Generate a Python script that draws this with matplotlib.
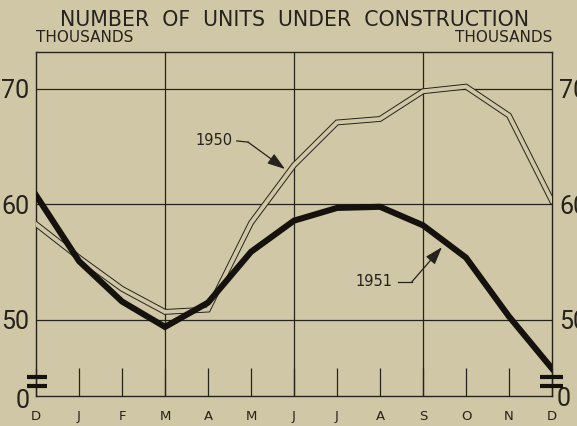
import matplotlib
matplotlib.use("Agg")
import matplotlib.pyplot as plt

# months Dec 1950 .. Dec 1951 (x positions 0..12)
months = ["D", "J", "F", "M", "A", "M", "J", "J", "A", "S", "O", "N", "D"]
units_1950 = [58.3, 55.4, 52.7, 50.7, 50.9, 58.4, 63.4, 67.1, 67.4, 69.8, 70.2, 67.7, 60.3]
units_1951 = [60.8, 55.1, 51.6, 49.4, 51.5, 55.9, 58.6, 59.7, 59.8, 58.2, 55.4, 50.3, 45.8]
y_ticks = [50, 60, 70]

bg = "#cfc7a5"
ink = "#26221c"
num_font = ["Roboto", "DejaVu Sans"]

fig = plt.figure(figsize=(5.77, 4.26), dpi=100, facecolor=bg)
ax = fig.add_axes([36 / 577, 1 - 396 / 426, 516 / 577, 344 / 426], facecolor=bg)

x = list(range(len(months)))
ax.set_xlim(0, 12)
ax.set_ylim(43.42, 73.2)

# grid
for v in y_ticks:
    ax.axhline(v, color=ink, lw=0.9, zorder=1)
for m in [3, 6, 9]:
    ax.axvline(m, color=ink, lw=0.9, zorder=1)

# 1950: double (hollow) line
ax.plot(x, units_1950, color=ink, lw=4.2, solid_joinstyle="miter", zorder=3)
ax.plot(x, units_1950, color=bg, lw=2.8, solid_joinstyle="miter", zorder=4)
# 1951: heavy line
ax.plot(x, units_1951, color="#15120e", lw=4.4, solid_joinstyle="miter", zorder=5)

for s in ax.spines.values():
    s.set_color(ink)
    s.set_linewidth(1.0)

ax.set_xticks(x)
ax.set_xticklabels(months, fontsize=9.5, color=ink)
ax.tick_params(axis="x", direction="in", length=20, width=0.9, color=ink, pad=10)
ax.set_yticks(y_ticks)
ax.set_yticklabels([str(v) for v in y_ticks], fontsize=18, color=ink, family=num_font)
ax.tick_params(axis="y", length=0, pad=5, labelright=True)

# axis break marks and zero labels
yt = ax.get_yaxis_transform()
for y0 in [45.07, 44.29]:
    ax.plot([-0.017, 0.021], [y0, y0], color="#15120e", lw=3.0,
            transform=yt, clip_on=False, zorder=6, solid_capstyle="butt")
    ax.plot([0.977, 1.021], [y0, y0], color="#15120e", lw=3.0,
            transform=yt, clip_on=False, zorder=6, solid_capstyle="butt")
ax.text(-0.012, 43.0, "0", transform=yt, ha="right", va="center", fontsize=18,
        color=ink, family=num_font)
ax.text(1.008, 43.2, "0", transform=yt, ha="left", va="center", fontsize=18,
        color=ink, family=num_font)

# series labels with leaders
ax.text(4.56, 65.5, "1950", ha="right", va="center", fontsize=10.5, color=ink)
ax.plot([4.67, 4.93], [65.5, 65.4], color=ink, lw=0.9)
ax.annotate("", xy=(5.79, 63.07), xytext=(4.93, 65.4),
            arrowprops=dict(arrowstyle="-|>,head_length=0.9,head_width=0.3",
                            mutation_scale=12, color=ink, lw=0.9,
                            shrinkA=0, shrinkB=0))
ax.text(8.30, 53.3, "1951", ha="right", va="center", fontsize=10.5, color=ink)
ax.plot([8.42, 8.74], [53.3, 53.3], color=ink, lw=0.9)
ax.annotate("", xy=(9.44, 56.3), xytext=(8.74, 53.3),
            arrowprops=dict(arrowstyle="-|>,head_length=0.9,head_width=0.3",
                            mutation_scale=12, color=ink, lw=0.9,
                            shrinkA=0, shrinkB=0))

# titles
fig.text(0.5 * (52 + 537) / 577, 1 - 20 / 426, "NUMBER  OF  UNITS  UNDER  CONSTRUCTION",
         ha="center", va="center", fontsize=14.8, color=ink)
fig.text(36 / 577, 1 - 38 / 426, "THOUSANDS", ha="left", va="center",
         fontsize=11, color=ink)
fig.text(552 / 577, 1 - 38 / 426, "THOUSANDS", ha="right", va="center",
         fontsize=11, color=ink)

fig.savefig("out.png", dpi=100, facecolor=bg)
